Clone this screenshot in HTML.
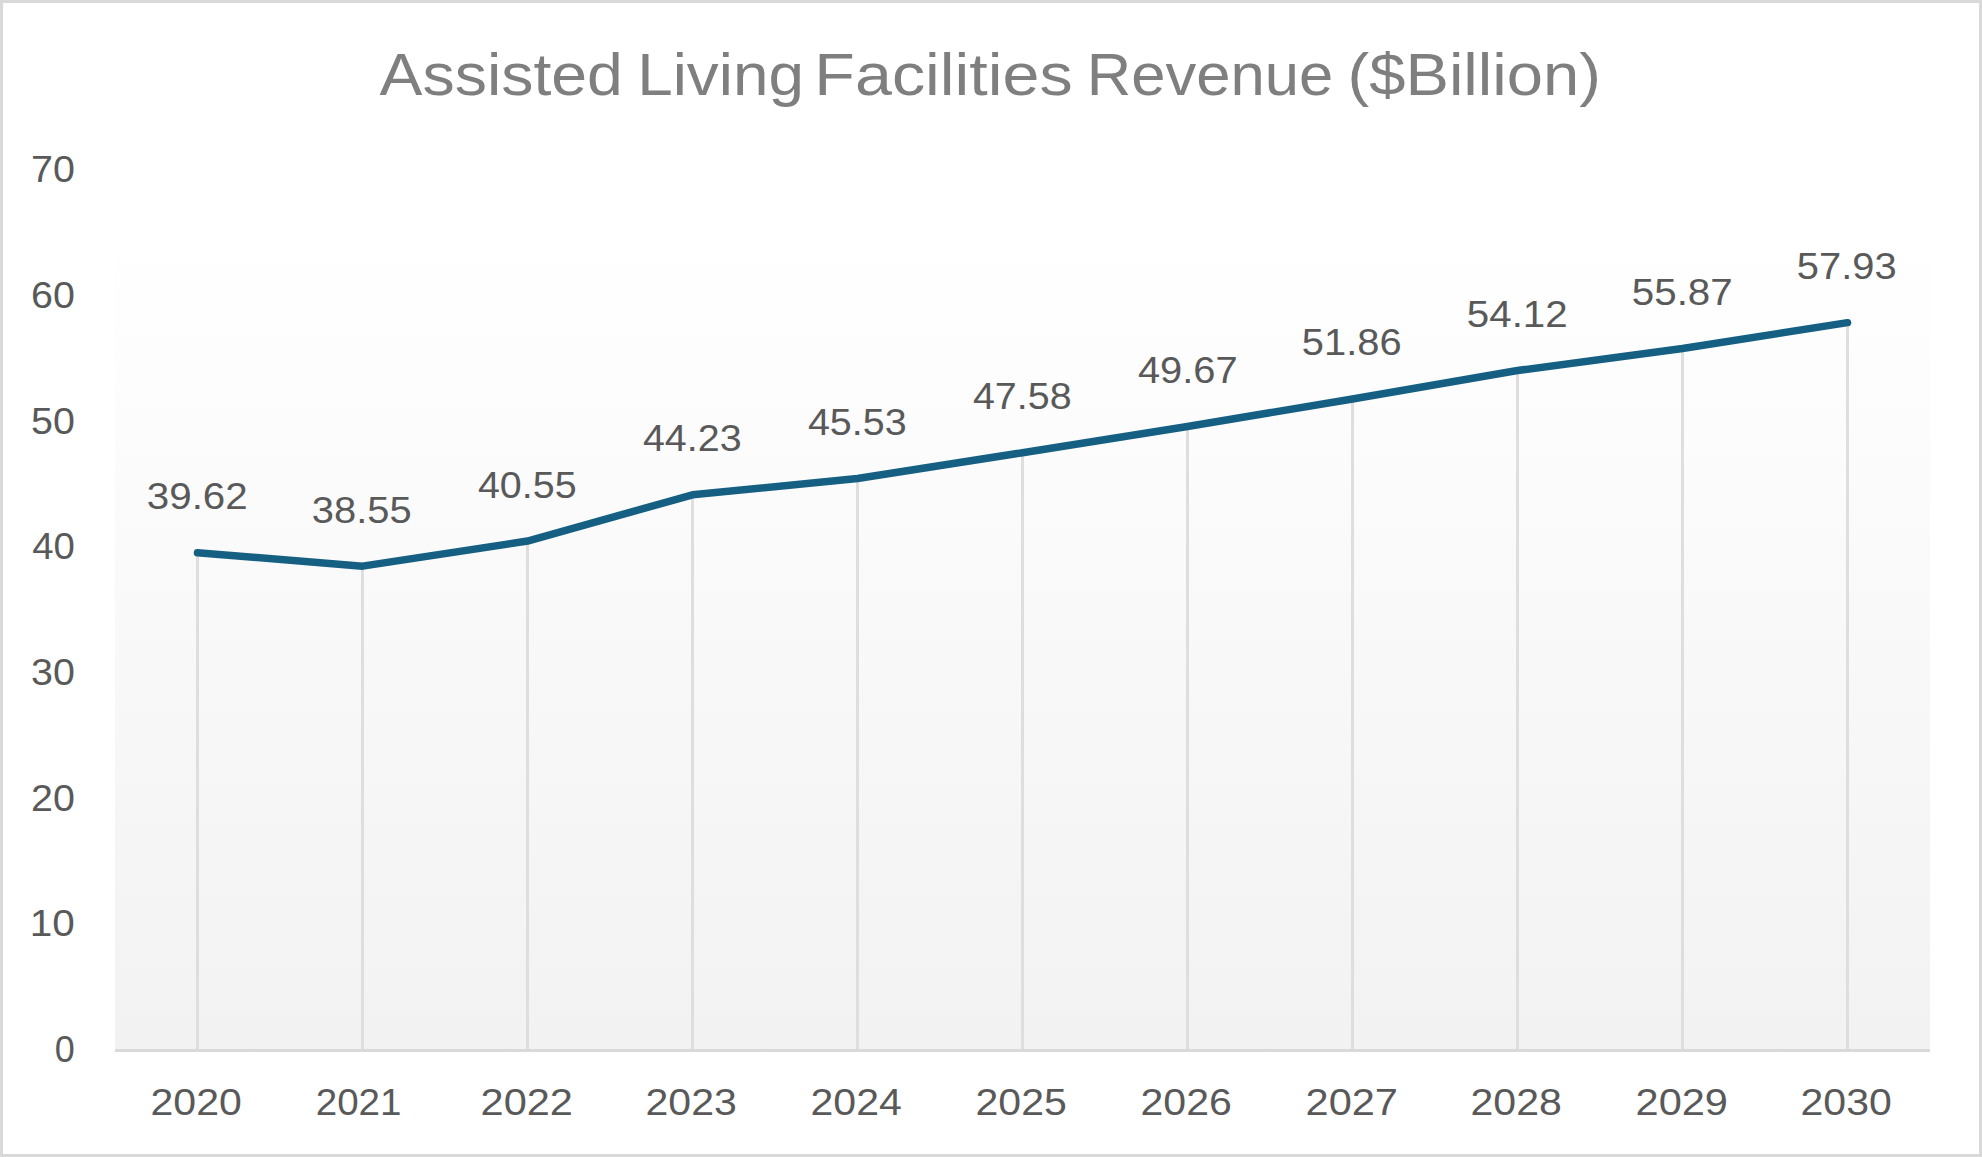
<!DOCTYPE html>
<html><head><meta charset="utf-8"><title>Assisted Living Facilities Revenue ($Billion)</title>
<style>
html,body{margin:0;padding:0;background:#fff;}
body{width:1982px;height:1157px;overflow:hidden;}
svg{display:block;}
text{font-family:"Liberation Sans", sans-serif;}
</style></head><body>
<svg width="1982" height="1157" viewBox="0 0 1982 1157">
<defs>
<linearGradient id="pg" x1="0" y1="0" x2="0" y2="1">
<stop offset="0" stop-color="#ffffff"/>
<stop offset="0.08" stop-color="#ffffff"/>
<stop offset="1" stop-color="#f2f2f2"/>
</linearGradient>
</defs>
<rect x="0" y="0" width="1982" height="1157" fill="#ffffff"/>
<rect x="1.5" y="1.5" width="1979" height="1154" fill="none" stroke="#d9d9d9" stroke-width="3"/>
<rect x="115.0" y="171.02" width="1815.0" height="879.48" fill="url(#pg)"/>
<line x1="197.50" y1="552.71" x2="197.50" y2="1050.50" stroke="#dedede" stroke-width="3"/>
<line x1="362.50" y1="566.16" x2="362.50" y2="1050.50" stroke="#dedede" stroke-width="3"/>
<line x1="527.50" y1="541.03" x2="527.50" y2="1050.50" stroke="#dedede" stroke-width="3"/>
<line x1="692.50" y1="494.79" x2="692.50" y2="1050.50" stroke="#dedede" stroke-width="3"/>
<line x1="857.50" y1="478.46" x2="857.50" y2="1050.50" stroke="#dedede" stroke-width="3"/>
<line x1="1022.50" y1="452.70" x2="1022.50" y2="1050.50" stroke="#dedede" stroke-width="3"/>
<line x1="1187.50" y1="426.45" x2="1187.50" y2="1050.50" stroke="#dedede" stroke-width="3"/>
<line x1="1352.50" y1="398.93" x2="1352.50" y2="1050.50" stroke="#dedede" stroke-width="3"/>
<line x1="1517.50" y1="370.54" x2="1517.50" y2="1050.50" stroke="#dedede" stroke-width="3"/>
<line x1="1682.50" y1="348.55" x2="1682.50" y2="1050.50" stroke="#dedede" stroke-width="3"/>
<line x1="1847.50" y1="322.67" x2="1847.50" y2="1050.50" stroke="#dedede" stroke-width="3"/>
<line x1="115.0" y1="1050.5" x2="1930.0" y2="1050.5" stroke="#d9d9d9" stroke-width="3"/>
<polyline points="197.50,552.71 362.50,566.16 527.50,541.03 692.50,494.79 857.50,478.46 1022.50,452.70 1187.50,426.45 1352.50,398.93 1517.50,370.54 1682.50,348.55 1847.50,322.67" fill="none" stroke="#156082" stroke-width="7.5" stroke-linecap="round" stroke-linejoin="round"/>
<text transform="translate(379.60 95.00) scale(1.0913 1.0010)" font-size="59.0" fill="#7f7f7f">Assisted</text>
<text transform="translate(637.19 95.00) scale(1.0814 1.0010)" font-size="59.0" fill="#7f7f7f">Living</text>
<text transform="translate(814.37 95.00) scale(1.1261 1.0010)" font-size="59.0" fill="#7f7f7f">Facilities</text>
<text transform="translate(1086.78 95.00) scale(1.0439 1.0010)" font-size="59.0" fill="#7f7f7f">Revenue</text>
<text transform="translate(1347.59 95.00) scale(1.1036 1.0010)" font-size="59.0" fill="#7f7f7f">($Billion)</text>
<text transform="translate(54.70 1061.90) scale(1.0000 1.0010)" font-size="36.0" fill="#595959">0</text>
<text transform="translate(29.83 936.26) scale(1.1250 1.0010)" font-size="36.0" fill="#595959">10</text>
<text transform="translate(31.01 810.62) scale(1.0946 1.0010)" font-size="36.0" fill="#595959">20</text>
<text transform="translate(31.01 684.98) scale(1.0946 1.0010)" font-size="36.0" fill="#595959">30</text>
<text transform="translate(32.13 559.34) scale(1.0658 1.0010)" font-size="36.0" fill="#595959">40</text>
<text transform="translate(31.01 433.70) scale(1.0946 1.0010)" font-size="36.0" fill="#595959">50</text>
<text transform="translate(31.01 308.06) scale(1.0946 1.0010)" font-size="36.0" fill="#595959">60</text>
<text transform="translate(31.01 182.42) scale(1.0946 1.0010)" font-size="36.0" fill="#595959">70</text>
<text transform="translate(150.57 1115.00) scale(1.1390 1.0010)" font-size="36.0" fill="#595959">2020</text>
<text transform="translate(315.76 1115.00) scale(1.0711 1.0010)" font-size="36.0" fill="#595959">2021</text>
<text transform="translate(480.54 1115.00) scale(1.1539 1.0010)" font-size="36.0" fill="#595959">2022</text>
<text transform="translate(645.57 1115.00) scale(1.1390 1.0010)" font-size="36.0" fill="#595959">2023</text>
<text transform="translate(810.57 1115.00) scale(1.1390 1.0010)" font-size="36.0" fill="#595959">2024</text>
<text transform="translate(975.57 1115.00) scale(1.1390 1.0010)" font-size="36.0" fill="#595959">2025</text>
<text transform="translate(1140.57 1115.00) scale(1.1390 1.0010)" font-size="36.0" fill="#595959">2026</text>
<text transform="translate(1305.54 1115.00) scale(1.1539 1.0010)" font-size="36.0" fill="#595959">2027</text>
<text transform="translate(1470.57 1115.00) scale(1.1390 1.0010)" font-size="36.0" fill="#595959">2028</text>
<text transform="translate(1635.54 1115.00) scale(1.1539 1.0010)" font-size="36.0" fill="#595959">2029</text>
<text transform="translate(1800.57 1115.00) scale(1.1390 1.0010)" font-size="36.0" fill="#595959">2030</text>
<text transform="translate(146.81 509.21) scale(1.1198 1.0010)" font-size="36.0" fill="#595959">39.62</text>
<text transform="translate(311.84 522.66) scale(1.1069 1.0010)" font-size="36.0" fill="#595959">38.55</text>
<text transform="translate(477.96 497.53) scale(1.0943 1.0010)" font-size="36.0" fill="#595959">40.55</text>
<text transform="translate(642.96 451.29) scale(1.0943 1.0010)" font-size="36.0" fill="#595959">44.23</text>
<text transform="translate(807.96 434.96) scale(1.0943 1.0010)" font-size="36.0" fill="#595959">45.53</text>
<text transform="translate(972.96 409.20) scale(1.0943 1.0010)" font-size="36.0" fill="#595959">47.58</text>
<text transform="translate(1137.94 382.95) scale(1.1069 1.0010)" font-size="36.0" fill="#595959">49.67</text>
<text transform="translate(1301.84 355.43) scale(1.1069 1.0010)" font-size="36.0" fill="#595959">51.86</text>
<text transform="translate(1466.81 327.04) scale(1.1198 1.0010)" font-size="36.0" fill="#595959">54.12</text>
<text transform="translate(1631.81 305.05) scale(1.1198 1.0010)" font-size="36.0" fill="#595959">55.87</text>
<text transform="translate(1796.84 279.17) scale(1.1069 1.0010)" font-size="36.0" fill="#595959">57.93</text>
</svg>
</body></html>
